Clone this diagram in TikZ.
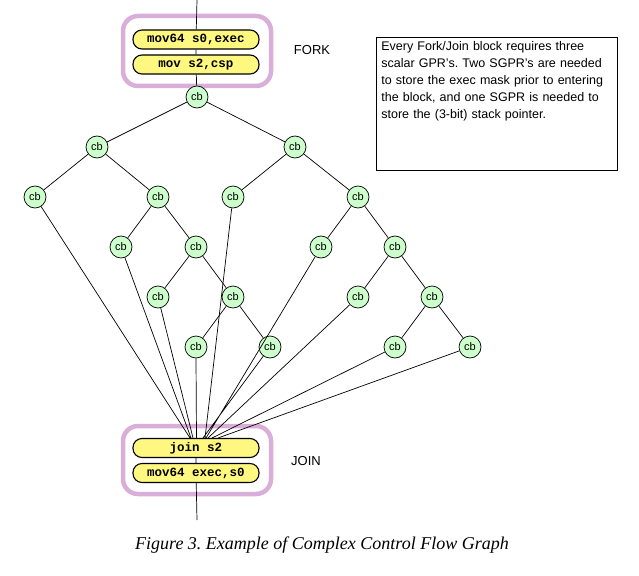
\documentclass[tikz,border=0pt]{standalone}
\usepackage{fontspec}
\setmainfont{Liberation Sans}
\newfontfamily\codefont{Liberation Mono}
\newfontfamily\capfont{Liberation Serif}
\begin{document}
\frenchspacing
\begin{tikzpicture}[x=1pt,y=-1pt,line width=0.7pt,
  cb/.style={circle,draw,fill=green!20!white,minimum size=22pt,inner sep=0pt,font=\fontsize{11}{11}\selectfont},
  pill/.style={rounded corners=9pt,draw,line width=1.1pt,fill=yellow!50,minimum width=126pt,minimum height=19pt,inner sep=0pt,font=\codefont\bfseries\fontsize{12.5}{12.5}\selectfont},
  lab/.style={font=\fontsize{13}{13}\selectfont}]
\useasboundingbox (0,0) rectangle (639,575);
\definecolor{fr}{HTML}{D9AED9}
\draw[draw=fr,line width=4.5pt,rounded corners=15pt] (123,16) rectangle (271,86);
\draw[draw=fr,line width=4.5pt,rounded corners=15pt] (123,426) rectangle (271,494);
\coordinate (top) at (197,0);
\coordinate (bot) at (197,520);
\node[pill] (p1) at (196,39.5) {mov64 s0,exec};
\node[pill] (p2) at (196,64.5) {mov s2,csp};
\node[pill] (j1) at (196,448) {join s2};
\node[pill] (j2) at (196,473) {mov64 exec,s0};
\node[lab] (fork) at (312,50) {FORK};
\node[lab] (join) at (306,461) {JOIN};
\node[cb] (r) at (197,97) {cb};
\node[cb] (a) at (97,147) {cb};
\node[cb] (b) at (295,147) {cb};
\node[cb] (a1) at (35,197) {cb};
\node[cb] (a2) at (158,197) {cb};
\node[cb] (b1) at (233,197) {cb};
\node[cb] (b2) at (358,197) {cb};
\node[cb] (a21) at (121,247) {cb};
\node[cb] (a22) at (196,247) {cb};
\node[cb] (b21) at (321,247) {cb};
\node[cb] (b22) at (395,247) {cb};
\node[cb] (c1) at (158,297) {cb};
\node[cb] (c2) at (233,297) {cb};
\node[cb] (d1) at (358,297) {cb};
\node[cb] (d2) at (432,297) {cb};
\node[cb] (e1) at (196,347) {cb};
\node[cb] (e2) at (270,347) {cb};
\node[cb] (f1) at (395,347) {cb};
\node[cb] (f2) at (470,347) {cb};
\draw (top) -- (p1) (p1) -- (p2) (p2) -- (r) (j1) -- (j2) (j2) -- (bot);
\draw (r) -- (a) (r) -- (b) (a) -- (a1) (a) -- (a2) (a2) -- (a21) (a2) -- (a22)
  (a22) -- (c1) (a22) -- (c2) (c2) -- (e1) (c2) -- (e2)
  (b) -- (b1) (b) -- (b2) (b2) -- (b21) (b2) -- (b22) (b22) -- (d1) (b22) -- (d2)
  (d2) -- (f1) (d2) -- (f2);
\coordinate (q1) at (190,438); \coordinate (q2) at (191,438); \coordinate (q3) at (193,438);
\coordinate (q4) at (196.5,438); \coordinate (q5) at (203,438); \coordinate (q6) at (205,438);
\coordinate (q7) at (206,438); \coordinate (q8) at (208,438); \coordinate (q9) at (212,438);
\coordinate (q10) at (218,438);
\draw (a1) -- (q1) (a21) -- (q2) (c1) -- (q3) (e1.south) -- (q4) (e2) -- (q5)
  (b1) -- (q6) (b21) -- (q7) (d1) -- (q8) (f1) -- (q9) (f2) -- (q10);
\draw[line width=0.8pt] (376,37) rectangle (617,170);
\node[anchor=north west,text width=232pt,align=left,inner sep=0pt,font=\fontsize{12.5}{17}\selectfont] (note) at (381,41)
 {Every Fork/Join block requires three scalar GPR's. Two SGPR's are needed to store the exec mask prior to entering the block, and one SGPR is needed to store the (3-bit) stack pointer.};
\node[font=\capfont\itshape\fontsize{18}{18}\selectfont] (cap) at (322,545) {Figure 3. Example of Complex Control Flow Graph};
\end{tikzpicture}
\end{document}
